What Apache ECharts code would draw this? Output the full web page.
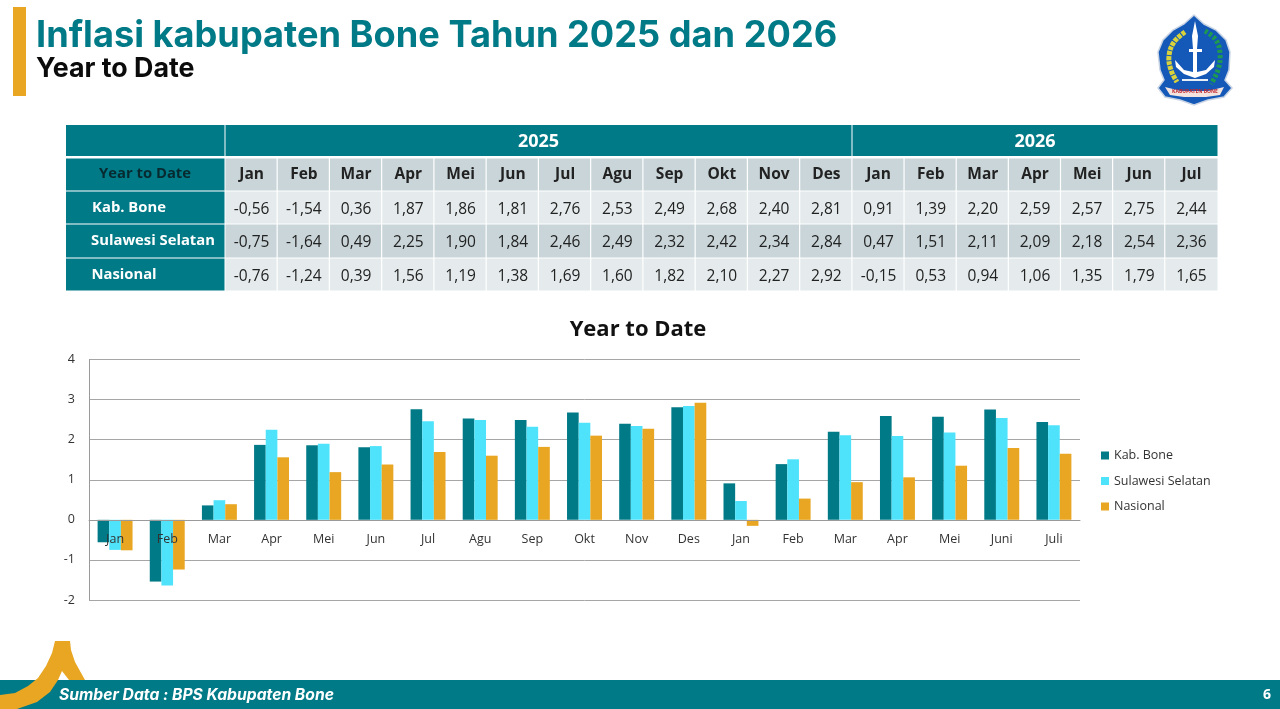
<!DOCTYPE html>
<html><head><meta charset="utf-8">
<style>html,body{margin:0;padding:0;background:#fff}#c{width:1280px;height:709px}</style>
<script src="https://cdn.jsdelivr.net/npm/echarts@6/dist/echarts.min.js"></script>
</head><body><div id="c"></div>
<script>
const tableMonths = ['Jan','Feb','Mar','Apr','Mei','Jun','Jul','Agu','Sep','Okt','Nov','Des','Jan','Feb','Mar','Apr','Mei','Jun','Jul'];
const chartMonths = ['Jan','Feb','Mar','Apr','Mei','Jun','Jul','Agu','Sep','Okt','Nov','Des','Jan','Feb','Mar','Apr','Mei','Juni','Juli'];
const seriesNames = ['Kab. Bone','Sulawesi Selatan','Nasional'];
const bone = [-0.56,-1.54,0.36,1.87,1.86,1.81,2.76,2.53,2.49,2.68,2.40,2.81,0.91,1.39,2.20,2.59,2.57,2.75,2.44];
const sulsel = [-0.75,-1.64,0.49,2.25,1.90,1.84,2.46,2.49,2.32,2.42,2.34,2.84,0.47,1.51,2.11,2.09,2.18,2.54,2.36];
const nasional = [-0.76,-1.24,0.39,1.56,1.19,1.38,1.69,1.60,1.82,2.10,2.27,2.92,-0.15,0.53,0.94,1.06,1.35,1.79,1.65];
const TEAL='#007a87', CYAN='#4fe3fb', GOLD='#e8a623';
const UI='"Open Sans","Noto Sans",sans-serif', HEAD='Inter,"Open Sans",sans-serif';
const fmt=v=>v.toFixed(2).replace('.',',');
const g=[];
const rect=(x,y,w,h,fill,z)=>g.push({type:'rect',z:z||1,shape:{x,y,width:w,height:h},style:{fill},silent:true});
const text=(x,y,t,o)=>g.push({type:'text',x,y,silent:true,z:10,style:Object.assign({text:t,align:'center',verticalAlign:'middle',fontFamily:UI,fill:'#222',fontSize:15},o)});
const poly=(points,style,z,smooth)=>g.push({type:'polygon',shape:{points,smooth:smooth||0},style,silent:true,z:z||3});
const line=(points,style,z,smooth)=>g.push({type:'polyline',shape:{points,smooth:smooth||0},style:Object.assign({fill:null},style),silent:true,z:z||3});

// header block
rect(13,7,13,89,GOLD);
text(36,36,'Inflasi kabupaten Bone Tahun 2025 dan 2026',{align:'left',fontFamily:HEAD,fontWeight:'bold',fontSize:36.2,fill:TEAL});
text(36,69,'Year to Date',{align:'left',fontFamily:HEAD,fontWeight:'bold',fontSize:26.8,fill:'#0b0b0b'});

// table
const X0=66,X1=225.5,X2=852.5,X3=1217.5;
const cw=i=>i<12?(X2-X1)/12:(X3-X2)/7;
const cx=i=>i<12?X1+i*(X2-X1)/12:X2+(i-12)*(X3-X2)/7;
rect(X0,125,X1-X0-1,31,TEAL); rect(X1,125,X2-X1-1,31,TEAL); rect(X2,125,X3-X2,31,TEAL);
text((X1+X2)/2-0.5,142,'2025',{fontWeight:'bold',fill:'#fff',fontSize:18});
text((X2+X3)/2,142,'2026',{fontWeight:'bold',fill:'#fff',fontSize:18});
const rows=[[158.5,32],[191.5,32],[224.5,33],[258.5,32]];
const rowLabels=['Year to Date',...seriesNames];
const rowData=[tableMonths,bone,sulsel,nasional];
const rowFill=['#c9d5d8','#e5ebec','#c9d5d8','#e5ebec'];
rows.forEach(([y,h],r)=>{
  rect(X0,y,X1-X0-1,h,TEAL);
  text(r===0?145:r===1?129:r===2?153:124,y+h/2-(r?0:1),rowLabels[r],{fontWeight:'bold',fill:r===0?'#062a30':'#fff',fontSize:14.8});
  rowData[r].forEach((v,i)=>{
    rect(cx(i),y,cw(i)-(i===18?0:1.2),h,rowFill[r]);
    text(cx(i)+cw(i)/2,y+h/2+(r?2:0),r?fmt(v):v,{fontWeight:r?'normal':'bold',fontSize:15.5});
  });
});

// footer
rect(0,680,1280,29,TEAL,2);
poly([[55,641],[70,641],[71,650],[75,662],[85,680],[69,680],[62,671],[58,680],[50,692],[37,702],[17,709],[0,709],[0,695],[15,693],[28,686],[38,678],[46,666],[52,653]],{fill:GOLD},3);
text(59,695,'Sumber Data : BPS Kabupaten Bone',{align:'left',fontFamily:HEAD,fontWeight:'bold',fontStyle:'italic',fill:'#fff',fontSize:15.7});
text(1267,695,'6',{fontWeight:'bold',fill:'#fff',fontSize:14});

// emblem (simplified)
poly([[1194,15],[1204,24],[1216,30],[1226,40],[1230,52],[1229,70],[1225,80],[1232,88],[1224,97],[1208,100],[1194,105],[1180,100],[1165,97],[1158,88],[1164,80],[1160,70],[1158,52],[1163,40],[1173,30],[1184,24]],{fill:'#1459b8',stroke:'#c8d4e4',lineWidth:1.5},3);
poly([[1195,21],[1198,36],[1197,49],[1202,49],[1202,52],[1197,52],[1197,72],[1206,70],[1215,60],[1214,67],[1206,74],[1195,78],[1184,74],[1176,67],[1175,60],[1184,70],[1193,72],[1193,52],[1189,52],[1189,49],[1193,49],[1192,36]],{fill:'#fff'},4);
rect(1182,79,26,2,'#e8eef6',4);
line([[1185,32],[1174,42],[1169,56],[1171,70],[1177,82]],{stroke:'#d9d23a',lineWidth:5,lineDash:[4,1]},4,0.4);
line([[1205,31],[1216,40],[1220,54],[1218,70],[1211,84]],{stroke:'#1d9a50',lineWidth:5,lineDash:[3,2]},4,0.4);
poly([[1165,87],[1181,91],[1208,91],[1224,87],[1220,95],[1206,97],[1184,97],[1170,95]],{fill:'#f4e4e0'},4);
text(1195,92,'KABUPATEN BONE',{fontSize:5,fill:'#c0272d',fontWeight:'bold'});

const mk=(name,data,color)=>({name,type:'bar',data,barGap:0,barCategoryGap:'33%',itemStyle:{color}});
const chart=echarts.init(document.getElementById('c'),null,{renderer:'canvas'});
chart.setOption({
  animation:false,
  backgroundColor:'#fff',
  title:{text:'Year to Date',left:633,top:314,textAlign:'center',textStyle:{fontFamily:UI,fontWeight:'bold',fontSize:22,color:'#111'}},
  legend:{orient:'vertical',left:1096,top:444,itemWidth:8,itemHeight:8,itemGap:12.5,icon:'rect',selectedMode:false,
    textStyle:{fontFamily:UI,fontSize:12.5,color:'#333'},data:seriesNames},
  grid:{left:89,right:200,top:359.5,height:240.5,containLabel:false},
  xAxis:{type:'category',data:chartMonths,z:5,
    axisLine:{onZero:true,lineStyle:{color:'#9a9a9a'}},axisTick:{show:false},
    axisLabel:{interval:0,margin:-67,fontFamily:UI,fontSize:12.5,color:'#333'}},
  yAxis:{type:'value',min:-2,max:4,interval:1,
    axisLine:{show:true,lineStyle:{color:'#9a9a9a'}},axisTick:{show:false},
    axisLabel:{margin:14,padding:[3,0,0,0],fontFamily:UI,fontSize:12.5,color:'#333'},
    splitLine:{lineStyle:{color:'#a6a6a6'}}},
  series:[mk(seriesNames[0],bone,TEAL),mk(seriesNames[1],sulsel,CYAN),mk(seriesNames[2],nasional,GOLD)],
  graphic:{elements:g}
});
</script></body></html>
